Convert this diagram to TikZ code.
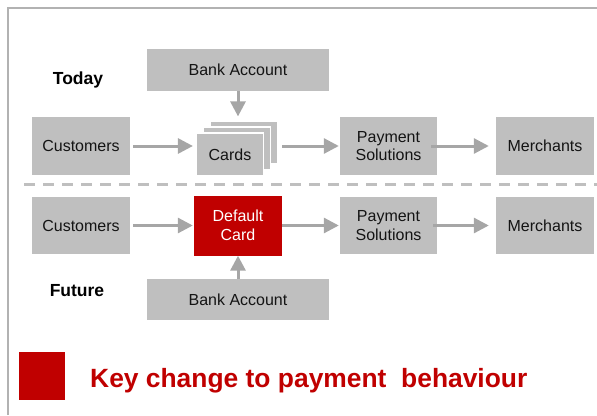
\documentclass[tikz,border=0pt]{standalone}
\usepackage{fontspec}
\setmainfont{Liberation Sans}
\usetikzlibrary{arrows.meta,calc}
\definecolor{boxgray}{HTML}{BFBFBF}
\definecolor{arrgray}{HTML}{A6A6A6}
\definecolor{framegray}{HTML}{B2B2B2}
\definecolor{keyred}{HTML}{C00000}
\definecolor{txt}{HTML}{141414}
\tikzset{
  box/.style={fill=boxgray, draw=none, inner sep=0pt, align=center, text=txt,
    font=\fontsize{16}{18.5}\selectfont},
  cardbox/.style={fill=boxgray, draw=white, line width=1.2pt, inner sep=0pt,
    minimum width=67pt, minimum height=43pt, text=txt, font=\fontsize{16}{18.5}\selectfont},
  redbox/.style={fill=keyred, draw=none, inner sep=0pt, align=center, text=white,
    font=\fontsize{16}{18.5}\selectfont},
  arr/.style={draw=arrgray, line width=3pt, -{Triangle[length=15pt,width=15pt]}},
  lbl/.style={font=\bfseries\fontsize{17.5}{20}\selectfont, text=black},
}
\begin{document}
\begin{tikzpicture}[x=1pt,y=-1pt]
\useasboundingbox (0,0) rectangle (597,415);
% frame
\draw[framegray, line width=2pt] (7.5,415) -- (7.5,7.5) -- (597,7.5);
% dashed separator
\draw[boxgray, line width=2.5pt, dash pattern=on 11pt off 8pt] (24,184.5) -- (597,184.5);

% Today row
\node[lbl] (today) at (78,80) {Today};
\node[box, minimum width=182pt, minimum height=42pt] (bank1) at (238,70) {Bank Account};
\node[box, minimum width=98pt, minimum height=58pt] (cust1) at (81,146) {Customers};
\node[cardbox] (cardC) at (244,142.5) {};
\node[cardbox] (cardB) at (237,148.5) {};
\node[cardbox] (cardA) at (230,154.5) {Cards};
\node[box, minimum width=97pt, minimum height=58pt] (pay1) at (388.5,146) {Payment\\Solutions};
\node[box, minimum width=98pt, minimum height=58pt] (merch1) at (545,146) {Merchants};

\draw[arr, shorten <=3pt, shorten >=3pt] (cust1.east) -- (cust1.east -| cardA.west);
\draw[arr, shorten <=4pt, shorten >=1pt] (cust1.east -| cardC.east) -- (pay1.west);
\draw[arr, shorten <=-6pt, shorten >=7pt] (pay1.east) -- (merch1.west);
\draw[arr, shorten >=4pt] (bank1.south) -- (bank1.south |- cardC.north);

% Future row
\node[box, minimum width=98pt, minimum height=57pt] (cust2) at (81,225.5) {Customers};
\node[redbox, minimum width=88pt, minimum height=60pt] (def) at (238,225.5) {Default\\Card};
\node[box, minimum width=97pt, minimum height=57pt] (pay2) at (388.5,225.5) {Payment\\Solutions};
\node[box, minimum width=98pt, minimum height=57pt] (merch2) at (545,225.5) {Merchants};
\node[box, minimum width=182pt, minimum height=41pt] (bank2) at (238,299.5) {Bank Account};
\node[lbl] (future) at (77,291) {Future};

\draw[arr, shorten <=3pt, shorten >=1pt] (cust2.east) -- (def.west);
\draw[arr, shorten >=1pt] (def.east) -- (pay2.west);
\draw[arr, shorten <=-4pt, shorten >=7pt] (pay2.east) -- (merch2.west);
\draw[arr] (bank2.north) -- (def.south);

% key
\node[fill=keyred, inner sep=0pt, minimum width=46pt, minimum height=48pt] (keysq) at (42,376) {};
\node[anchor=base west, inner sep=0pt, text=keyred, font=\bfseries\fontsize{26.4}{30}\selectfont] (keytxt) at (90,387) {Key change to payment\ \ behaviour};
\end{tikzpicture}
\end{document}
